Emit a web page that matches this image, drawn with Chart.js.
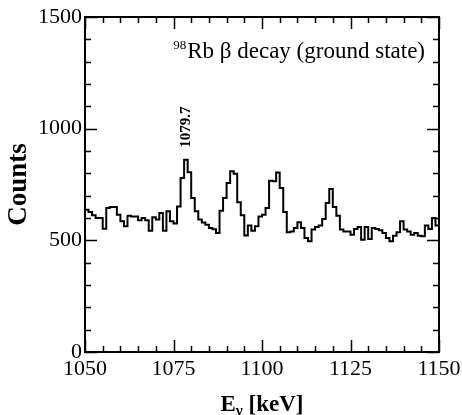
<!DOCTYPE html>
<html><head><meta charset="utf-8">
<script src="https://cdn.jsdelivr.net/npm/chart.js@4/dist/chart.umd.min.js"></script>
<style>html,body{margin:0;padding:0;background:#fff;}</style>
</head><body>
<canvas id="c" width="462" height="415"></canvas>
<script>
// bin start energies (keV), 1 keV bins
const binStarts = [
1050,1051,1052,1053,1054,1055,1056,1057,1058,1059,
1060,1061,1062,1063,1064,1065,1066,1067,1068,1069,
1070,1071,1072,1073,1074,1075,1076,1077,1078,1079,
1080,1081,1082,1083,1084,1085,1086,1087,1088,1089,
1090,1091,1092,1093,1094,1095,1096,1097,1098,1099,
1100,1101,1102,1103,1104,1105,1106,1107,1108,1109,
1110,1111,1112,1113,1114,1115,1116,1117,1118,1119,
1120,1121,1122,1123,1124,1125,1126,1127,1128,1129,
1130,1131,1132,1133,1134,1135,1136,1137,1138,1139,
1140,1141,1142,1143,1144,1145,1146,1147,1148,1149];
const binWidth = 1;
const counts = [
637,627,612,600,600,552,645,649,649,615,
585,563,610,607,607,590,600,590,543,603,
593,622,543,630,585,575,652,779,861,805,
690,630,593,580,570,555,550,533,633,690,
757,809,798,670,612,522,566,543,563,607,
615,645,767,764,804,734,627,536,540,555,
581,555,510,496,548,560,566,596,667,730,
649,610,548,540,540,525,551,560,503,560,
506,555,551,545,533,510,496,521,536,585,
548,540,525,533,521,518,566,551,600,566];
const xTickValues = [1050, 1075, 1100, 1125, 1150];
const yTickValues = [0, 500, 1000, 1500];
const xMinorStep = 5;
const yMinorStep = 100;
const xRange = [1050, 1150];
const yRange = [0, 1500];
const yTitle = 'Counts';
const xTitleParts = ['E', 'γ', ' [keV]'];
const decaySup = '98';
const decayText = 'Rb β decay (ground state)';
const peakLabels = [{text: '1079.7', x: 1078.5, y: 915}];

const FONT = "'Liberation Serif', 'Times New Roman', serif";

const points = binStarts.map((x, i) => ({x: x, y: counts[i]}));
points.push({x: binStarts[binStarts.length - 1] + binWidth, y: counts[counts.length - 1]});

const framePlugin = {
  id: 'frame',
  afterDatasetsDraw(chart) {
    const {ctx, chartArea: a, scales: {x, y}} = chart;
    ctx.save();
    ctx.strokeStyle = '#000';
    ctx.lineWidth = 1.5;
    ctx.beginPath();
    for (let v = xRange[0]; v <= xRange[1]; v += xMinorStep) {
      const px = Math.round(x.getPixelForValue(v)) + 0.5;
      const len = xTickValues.includes(v) ? 12 : 6;
      ctx.moveTo(px, a.bottom); ctx.lineTo(px, a.bottom - len);
      ctx.moveTo(px, a.top); ctx.lineTo(px, a.top + len);
    }
    for (let v = yRange[0]; v <= yRange[1]; v += yMinorStep) {
      const py = Math.round(y.getPixelForValue(v)) + 0.5;
      const len = yTickValues.includes(v) ? 12 : 6;
      ctx.moveTo(a.left, py); ctx.lineTo(a.left + len, py);
      ctx.moveTo(a.right, py); ctx.lineTo(a.right - len, py);
    }
    ctx.stroke();
    ctx.lineWidth = 2;
    ctx.strokeRect(a.left, a.top, a.right - a.left, a.bottom - a.top);
    ctx.restore();
  },
  afterDraw(chart) {
    const {ctx, chartArea: a, scales: {x, y}} = chart;
    ctx.save();
    ctx.fillStyle = '#000';
    peakLabels.forEach(p => {
      ctx.save();
      ctx.translate(x.getPixelForValue(p.x), y.getPixelForValue(p.y));
      ctx.rotate(-Math.PI / 2);
      ctx.font = 'bold 15px ' + FONT;
      ctx.textAlign = 'left';
      ctx.textBaseline = 'middle';
      ctx.fillText(p.text, 0, 0);
      ctx.restore();
    });
    ctx.font = '23px ' + FONT;
    ctx.textBaseline = 'alphabetic';
    ctx.textAlign = 'right';
    const mainRight = a.right - 14;
    const baseY = a.top + 41;
    ctx.fillText(decayText, mainRight, baseY);
    const mw = ctx.measureText(decayText).width;
    ctx.font = '13px ' + FONT;
    ctx.fillText(decaySup, mainRight - mw - 1, baseY - 9);
    const bigFont = 'bold 23px ' + FONT;
    const subFont = 'bold 15px ' + FONT;
    ctx.textAlign = 'left';
    ctx.font = bigFont; const w0 = ctx.measureText(xTitleParts[0]).width;
    ctx.font = subFont; const w1 = ctx.measureText(xTitleParts[1]).width;
    ctx.font = bigFont; const w2 = ctx.measureText(xTitleParts[2]).width;
    const cx = (a.left + a.right) / 2;
    let sx = cx - (w0 + w1 + w2) / 2;
    const ty = 411;
    ctx.font = bigFont; ctx.fillText(xTitleParts[0], sx, ty); sx += w0;
    ctx.font = subFont; ctx.fillText(xTitleParts[1], sx, ty + 4); sx += w1;
    ctx.font = bigFont; ctx.fillText(xTitleParts[2], sx, ty);
    ctx.restore();
  }
};

new Chart(document.getElementById('c'), {
  type: 'line',
  data: {
    datasets: [{
      data: points,
      stepped: true,
      borderColor: '#000',
      borderWidth: 2,
      pointRadius: 0,
      fill: false
    }]
  },
  options: {
    responsive: false,
    animation: false,
    devicePixelRatio: 1,
    layout: {padding: {left: 0, right: 23, top: 17, bottom: 0}},
    plugins: {legend: {display: false}, tooltip: {enabled: false}},
    scales: {
      x: {
        type: 'linear', min: xRange[0], max: xRange[1],
        afterBuildTicks: s => { s.ticks = xTickValues.map(v => ({value: v})); },
        ticks: {font: {family: FONT, size: 22}, color: '#000', padding: 4, maxRotation: 0, autoSkip: false,
                callback: v => String(v)},
        grid: {display: false, drawTicks: false},
        border: {display: false},
        afterFit: s => { s.height = 63; s.paddingLeft = 0; s.paddingRight = 0; }
      },
      y: {
        type: 'linear', min: yRange[0], max: yRange[1],
        afterBuildTicks: s => { s.ticks = yTickValues.map(v => ({value: v})); },
        ticks: {font: {family: FONT, size: 22}, color: '#000', padding: 3, autoSkip: false,
                callback: v => String(v)},
        grid: {display: false, drawTicks: false},
        border: {display: false},
        title: {display: true, text: yTitle, color: '#000',
                font: {family: FONT, size: 27, weight: 'bold'}, padding: {top: 3, bottom: 0}},
        afterFit: s => { s.width = 85; s.paddingTop = 0; s.paddingBottom = 0; }
      }
    }
  },
  plugins: [framePlugin]
});
</script>
</body></html>
